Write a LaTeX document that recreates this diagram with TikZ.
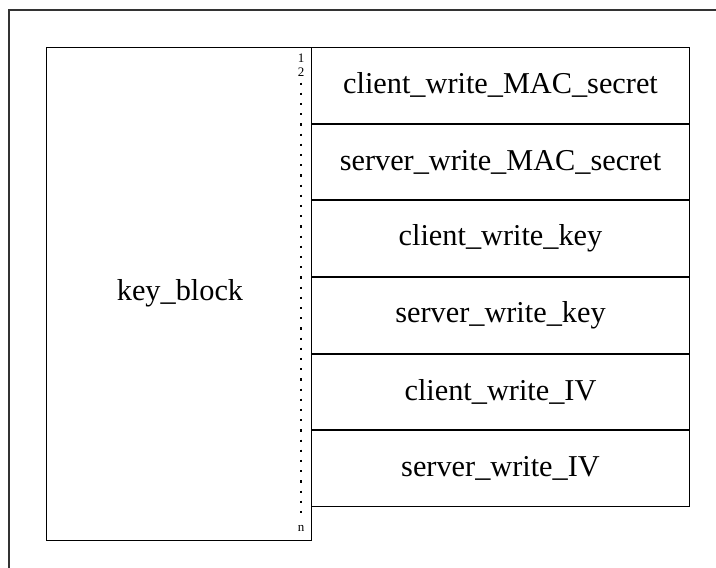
\documentclass[tikz,border=0pt]{standalone}
\usepackage{fontspec}
\setmainfont{Liberation Serif}
\begin{document}
\begin{tikzpicture}[x=1pt,y=-1pt,
  cell/.style={draw,line width=1pt,minimum width=378pt,minimum height=75.67pt,
    inner sep=0pt,font=\fontsize{30.3}{34}\selectfont,anchor=north west},
  tick/.style={font=\fontsize{13}{14}\selectfont,inner sep=0pt}]
\useasboundingbox (0,0) rectangle (716,568);
% outer frame
\draw[line width=1.5pt,black!80] (716,10) -- (9,10) -- (9,568);
% key block
\node[draw,line width=1pt,minimum width=265pt,minimum height=493pt,inner sep=0pt,
  anchor=north west] (kb) at (46,47) {};
\node[font=\fontsize{30.3}{34}\selectfont] (kbl) at (180,293) {key\_block};
% byte index marks
\node[tick] (i1) at (301,58) {1};
\node[tick] (i2) at (301,72) {2};
\node[tick] (in) at (301,528) {n};
\draw[line width=1.4pt,dash pattern=on 2.2pt off 8pt] ([yshift=-6pt]i2.south) -- ([yshift=4pt]in.north);
% derived keys
\node[cell] (r1) at (311,47) {client\_write\_MAC\_secret};
\node[cell] (r2) at (r1.south west) {server\_write\_MAC\_secret};
\node[cell] (r3) at (r2.south west) {client\_write\_key};
\node[cell] (r4) at (r3.south west) {server\_write\_key};
\node[cell] (r5) at (r4.south west) {client\_write\_IV};
\node[cell] (r6) at (r5.south west) {server\_write\_IV};
\end{tikzpicture}
\end{document}
